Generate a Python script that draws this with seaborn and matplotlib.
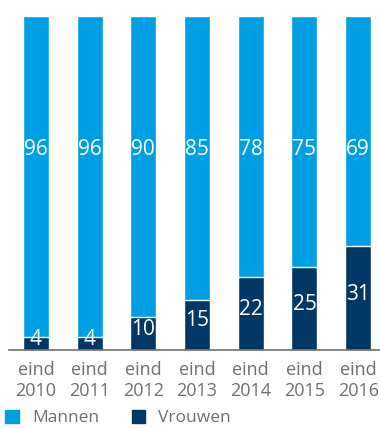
import matplotlib
matplotlib.use("Agg")
import matplotlib.pyplot as plt
from matplotlib.patches import Patch
import seaborn as sns
import pandas as pd

jaren = ["eind\n2010", "eind\n2011", "eind\n2012", "eind\n2013", "eind\n2014", "eind\n2015", "eind\n2016"]
mannen = [96, 96, 90, 85, 78, 75, 69]
vrouwen = [4, 4, 10, 15, 22, 25, 31]

kleur_mannen = "#009FE3"
kleur_vrouwen = "#003764"
grijs = "#6f6f6f"

df = pd.DataFrame({"jaar": jaren, "mannen": mannen, "vrouwen": vrouwen})
df["totaal"] = df["mannen"] + df["vrouwen"]

sns.set_theme(style="white")
plt.rcParams["font.family"] = ["Open Sans", "DejaVu Sans"]

fig = plt.figure(figsize=(3.80, 4.28), dpi=100)
ax = fig.add_axes([9 / 380, 78 / 428, 371 / 380, 334 / 428])

sns.barplot(data=df, x="jaar", y="totaal", color=kleur_mannen, width=0.485,
            saturation=1, ax=ax)
sns.barplot(data=df, x="jaar", y="vrouwen", color=kleur_vrouwen, width=0.485,
            saturation=1, ax=ax)

ax.set_xlim(-0.5, 6.406)
ax.set_ylim(0, 100)

for i, (m, v) in enumerate(zip(mannen, vrouwen)):
    ax.text(i, 60, str(m), ha="center", va="center", color="white", fontsize=15)
    ax.text(i, v / 2 + 1.2, str(v), ha="center", va="center", color="white", fontsize=15)

for side in ["top", "right", "left"]:
    ax.spines[side].set_visible(False)
ax.spines["bottom"].set_color(grijs)
ax.spines["bottom"].set_linewidth(1.2)
ax.set_yticks([])
ax.set_xlabel("")
ax.set_ylabel("")
ax.tick_params(axis="x", length=0, pad=8, labelsize=13, labelcolor=grijs)
for lbl in ax.get_xticklabels():
    lbl.set_linespacing(1.2)

handles = [Patch(color=kleur_mannen, label="Mannen"),
           Patch(color=kleur_vrouwen, label="Vrouwen")]
fig.legend(handles=handles, loc="lower left", bbox_to_anchor=(0.0, -0.008),
           ncol=2, frameon=False, fontsize=12.5, labelcolor=grijs,
           handlelength=0.78, handleheight=0.78, handletextpad=0.75,
           columnspacing=1.9, borderaxespad=0.0, borderpad=0.3)

fig.savefig("out.png", dpi=100)
